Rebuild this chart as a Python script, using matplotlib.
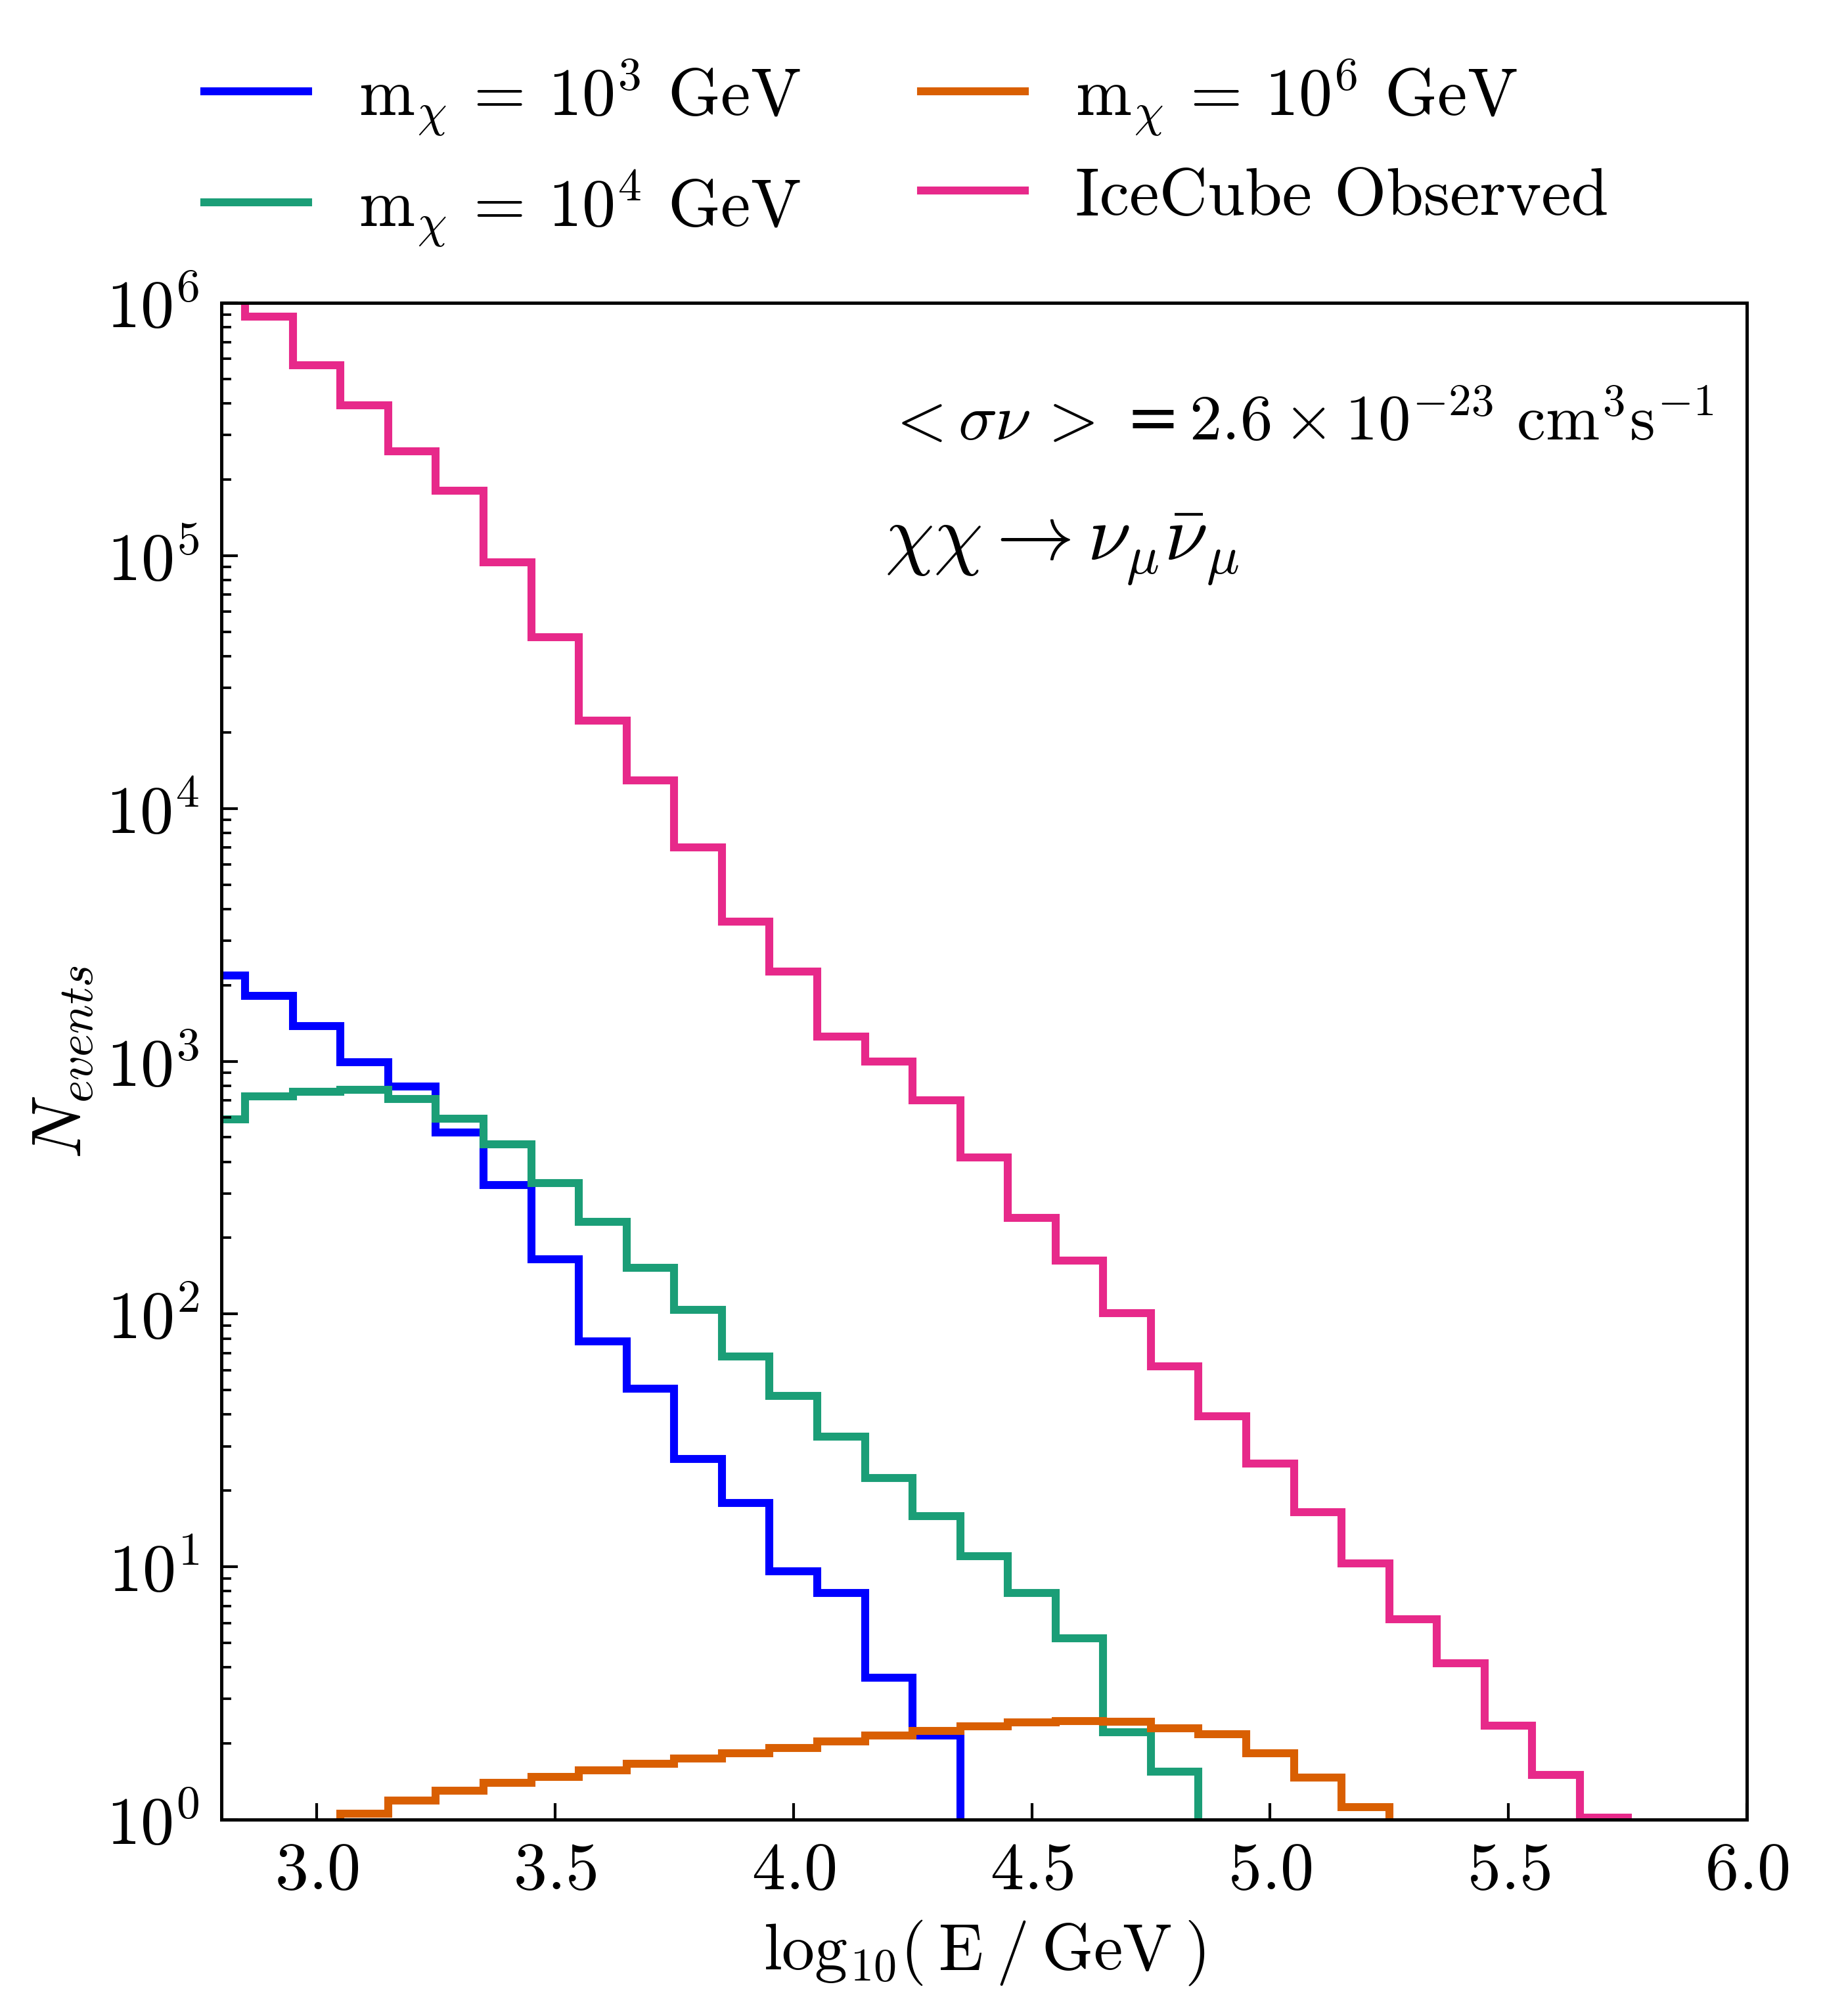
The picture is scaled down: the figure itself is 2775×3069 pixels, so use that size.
import numpy as np
import matplotlib
matplotlib.use('Agg')
from matplotlib import pyplot as plt

plt.rcParams['font.family'] = 'serif'
plt.rcParams['font.serif'] = ['cmr10']
plt.rcParams['mathtext.fontset'] = 'cm'
plt.rcParams['axes.unicode_minus'] = False
plt.rcParams['axes.formatter.use_mathtext'] = True

# common bin edges in log10(E/GeV)
edges = [2.75, 2.85, 2.95, 3.05, 3.15, 3.25, 3.35, 3.45, 3.55, 3.65, 3.75,
         3.85, 3.95, 4.05, 4.15, 4.25, 4.35, 4.45, 4.55, 4.65, 4.75, 4.85,
         4.95, 5.05, 5.15, 5.25, 5.35, 5.45, 5.55, 5.65, 5.75, 5.85]

n_1e3 = [2180, 1810, 1380, 993, 796, 522, 323, 165, 78, 50.7, 26.7, 17.9,
         9.6, 7.9, 3.65, 2.15, 0, 0, 0, 0, 0, 0, 0, 0, 0, 0, 0, 0, 0, 0, 0]
n_1e4 = [588, 724, 759, 770, 708, 593, 468, 330, 232, 152, 104, 68, 47.5,
         32.8, 22.4, 15.9, 11.0, 7.9, 5.2, 2.22, 1.55, 0, 0, 0, 0, 0, 0, 0,
         0, 0, 0]
n_1e6 = [0, 0, 0, 1.055, 1.19, 1.30, 1.40, 1.475, 1.565, 1.66, 1.745, 1.83,
         1.92, 2.04, 2.15, 2.24, 2.34, 2.42, 2.46, 2.44, 2.30, 2.18, 1.83,
         1.47, 1.12, 0, 0, 0, 0, 0, 0]
n_icecube = [1.5e6, 8.8e5, 5.66e5, 3.94e5, 2.58e5, 1.81e5, 9.4e4, 4.77e4,
             2.22e4, 1.29e4, 7.0e3, 3.56e3, 2.27e3, 1.25e3, 1.0e3, 700, 417,
             240, 163, 101, 62, 39.5, 25.6, 16.4, 10.3, 6.2, 4.15, 2.35, 1.5,
             1.02, 0]

labels = [r'm$_\chi$ = 10$^3$ GeV',
          r'm$_\chi$ = 10$^4$ GeV',
          r'm$_\chi$ = 10$^6$ GeV',
          'IceCube Observed']
colors = ['#0000ff', '#1b9e77', '#d95f02', '#e7298a']


def draw(ax, vals, color, label):
    vals = np.array(vals, dtype=float)
    e = np.array(edges)
    nz = np.nonzero(vals)[0]
    i0, i1 = nz[0], nz[-1] + 1
    ax.stairs(vals[i0:i1], e[i0:i1 + 1], baseline=1e-3, fill=False,
              color=color, lw=2.9, label=label)


fig = plt.figure(figsize=(9.25, 10.2333), dpi=300)
ax = fig.add_axes([0.1214, 0.0974, 0.8368, 0.7521])

for vals, c, lab in zip([n_1e3, n_1e4, n_1e6, n_icecube], colors, labels):
    draw(ax, vals, c, lab)

ax.set_yscale('log')
ax.set_xlim(2.8, 6.0)
ax.set_ylim(1, 1e6)
ax.set_xticks([3.0, 3.5, 4.0, 4.5, 5.0, 5.5, 6.0])
ax.tick_params(axis='both', which='major', direction='in', length=6,
               width=1.0, labelsize=24.5, pad=8)
ax.tick_params(axis='y', which='minor', direction='in', length=3.5, width=0.9)
ax.tick_params(axis='x', which='minor', bottom=False)
for s in ax.spines.values():
    s.set_linewidth(1.2)

ax.set_xlabel(r'$\mathrm{log}_{10}(\:\mathrm{E}\:/\:\mathrm{GeV}\:)$',
              fontsize=24, labelpad=6)
ax.set_ylabel(r'$N_{events}$', fontsize=25.5, labelpad=4)

ax.text(0.435, 0.922,
        r'$<\sigma\nu\,>\;$=$\,2.6\times10^{-23}\ \mathrm{cm}^3\mathrm{s}^{-1}$',
        transform=ax.transAxes, fontsize=23.7, family='DejaVu Sans',
        va='center', ha='left')
ax.text(0.435, 0.838, r'$\chi\chi\rightarrow\nu_\mu\bar{\nu}_\mu$',
        transform=ax.transAxes, fontsize=28.5, va='center', ha='left')

ax.legend(loc='lower center', bbox_to_anchor=(0.449, 0.996), ncol=2,
          frameon=False, fontsize=24.5, handlelength=1.55, handletextpad=0.75,
          columnspacing=1.8, labelspacing=0.45)

plt.savefig('out.png', dpi=300)
